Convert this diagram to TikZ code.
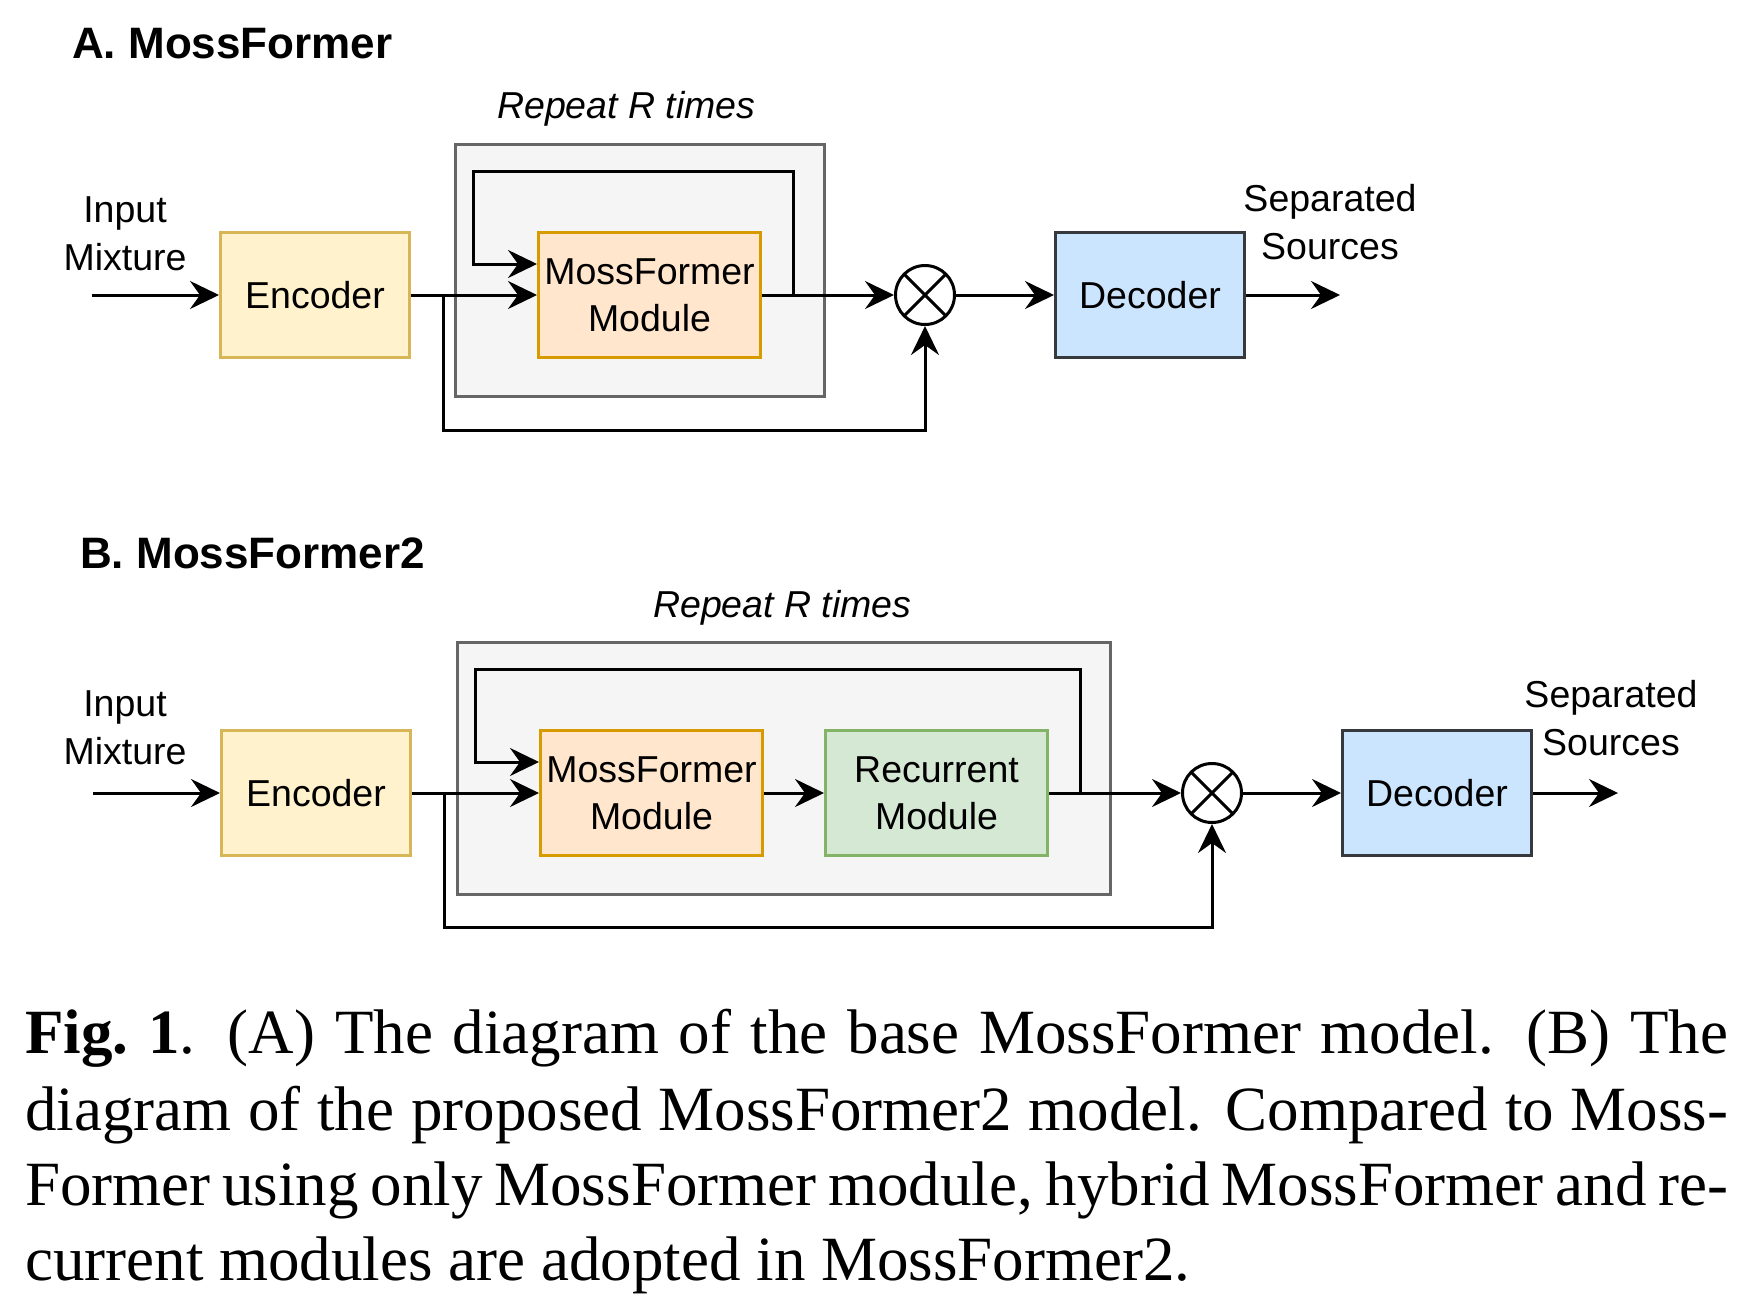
\documentclass[tikz,border=0pt]{standalone}
\usepackage{fontspec}
\setmainfont{Liberation Serif}
\newfontfamily\dsans{Liberation Sans}
\usetikzlibrary{arrows.meta}
\definecolor{encF}{HTML}{FFF2CC}\definecolor{encD}{HTML}{D6B656}
\definecolor{mfF}{HTML}{FFE6CC}\definecolor{mfD}{HTML}{D79B00}
\definecolor{recF}{HTML}{D5E8D4}\definecolor{recD}{HTML}{82B366}
\definecolor{decF}{HTML}{CCE5FF}\definecolor{decD}{HTML}{36393D}
\definecolor{repF}{HTML}{F5F5F5}\definecolor{repD}{HTML}{666666}
\begin{document}
\begin{tikzpicture}[x=1pt,y=-1pt,
  conn/.style={line width=3pt, line join=miter, -{Stealth[length=29pt,width=28pt,inset=10pt]}},
  box/.style={draw, line width=3pt, minimum height=125pt, inner sep=0pt, align=center,
    font=\dsans\fontsize{37.5}{47}\selectfont},
  encbox/.style={box, fill=encF, draw=encD, minimum width=189pt},
  mfbox/.style={box, fill=mfF, draw=mfD, minimum width=222pt},
  recbox/.style={box, fill=recF, draw=recD, minimum width=222pt},
  decbox/.style={box, fill=decF, draw=decD, minimum width=189pt},
  repbox/.style={draw=repD, fill=repF, line width=3pt, minimum height=252pt, inner sep=0pt},
  mult/.style={circle, draw, line width=3pt, minimum size=59pt, inner sep=0pt,
    path picture={\draw[line width=3pt] (path picture bounding box.north west) -- (path picture bounding box.south east)
      (path picture bounding box.north east) -- (path picture bounding box.south west);}},
  lbl/.style={font=\dsans\fontsize{37.5}{48}\selectfont, align=center, inner sep=0pt},
  title/.style={font=\dsans\bfseries\fontsize{44}{50}\selectfont, anchor=base west, inner sep=0pt},
  rep/.style={font=\dsans\itshape\fontsize{37.5}{45}\selectfont, anchor=base west, inner sep=0pt},
  capline/.style={font=\fontsize{63}{76}\selectfont, anchor=base west, inner sep=0pt}
]
\useasboundingbox (0,0) rectangle (1759,1315);

%% ---------------- Panel A ----------------
\node[title] (aTitle) at (72,58) {A. MossFormer};
\node[rep] (aRepLbl) at (497,118) {Repeat R times};
\node[repbox, minimum width=369pt] (aRep) at (640,270.5) {};
\node[lbl] (aInLbl) at (125,233.5) {Input\\Mixture};
\node[encbox] (aEnc) at (315,295) {Encoder};
\node[mfbox] (aMF) at (649.5,295) {MossFormer\\Module};
\node[mult] (aX) at (925,295) {};
\node[decbox] (aDec) at (1150,295) {Decoder};
\node[lbl] (aOutLbl) at (1330,222.5) {Separated\\Sources};
\coordinate (aIn) at (92,295);
\coordinate (aOut) at (1340,295);
\coordinate (aSkip) at (443,295);
\coordinate (aJoin) at (793,295);

\draw[conn] (aIn) -- (aEnc);
\draw[conn] (aEnc) -- (aMF);
\draw[conn] (aMF) -- (aX);
\draw[conn] (aX) -- (aDec);
\draw[conn] (aDec) -- (aOut);
\draw[conn] (aJoin) |- (473,171) |- ([yshift=31pt]aMF.west);
\draw[conn] (aSkip) -- (443,430) -| (aX.south);

%% ---------------- Panel B ----------------
\node[title] (bTitle) at (80,568) {B. MossFormer2};
\node[rep] (bRepLbl) at (653,617) {Repeat R times};
\node[repbox, minimum width=653pt] (bRep) at (784,768.5) {};
\node[lbl] (bInLbl) at (125,727.5) {Input\\Mixture};
\node[encbox] (bEnc) at (316,793) {Encoder};
\node[mfbox] (bMF) at (651.5,793) {MossFormer\\Module};
\node[recbox] (bRec) at (936.5,793) {Recurrent\\Module};
\node[mult] (bX) at (1212,793) {};
\node[decbox] (bDec) at (1437,793) {Decoder};
\node[lbl] (bOutLbl) at (1611,718.5) {Separated\\Sources};
\coordinate (bIn) at (93,793);
\coordinate (bOut) at (1618,793);
\coordinate (bSkip) at (444,793);
\coordinate (bJoin) at (1080,793);

\draw[conn] (bIn) -- (bEnc);
\draw[conn] (bEnc) -- (bMF);
\draw[conn] (bMF) -- (bRec);
\draw[conn] (bRec) -- (bX);
\draw[conn] (bX) -- (bDec);
\draw[conn] (bDec) -- (bOut);
\draw[conn] (bJoin) |- (475,669) |- ([yshift=31pt]bMF.west);
\draw[conn] (bSkip) -- (444,927) -| (bX.south);

%% ---------------- Caption ----------------
\node[capline] (cap1) at (25,1053) {\makebox[1703pt][s]{\textbf{Fig.\ 1}. (A) The diagram of the base MossFormer model. (B) The}};
\node[capline] (cap2) at (25,1130) {\makebox[1703pt][s]{diagram of the proposed MossFormer2 model. Compared to Moss-}};
\node[capline] (cap3) at (25,1205) {\makebox[1703pt][s]{Former using only MossFormer module, hybrid MossFormer and re-}};
\node[capline] (cap4) at (25,1280) {current modules are adopted in MossFormer2.};
\end{tikzpicture}
\end{document}
